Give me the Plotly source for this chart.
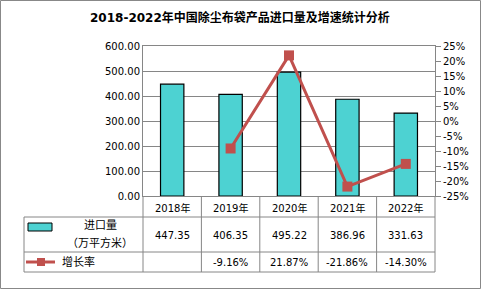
import plotly.graph_objects as go

years = ["2018年", "2019年", "2020年", "2021年", "2022年"]
imports = [447.35, 406.35, 495.22, 386.96, 331.63]
growth = [None, -9.16, 21.87, -21.86, -14.30]
import_labels = ["447.35", "406.35", "495.22", "386.96", "331.63"]
growth_labels = ["", "-9.16%", "21.87%", "-21.86%", "-14.30%"]
pct_ticks = [-25, -20, -15, -10, -5, 0, 5, 10, 15, 20, 25]

W, H = 481, 289
L, R, T, B = 143, 435, 46, 196
FONT = "DejaVu Sans, Noto Sans CJK SC"
BAR = "#4DD2D2"
LINE = "#C0504D"
GRID = "#868686"

def px(x):
    return (x - L) / (R - L)

def py(y):
    return (B - y) / (B - T)

fig = go.Figure()
fig.add_trace(go.Bar(x=years, y=imports, marker=dict(color=BAR, line=dict(color="black", width=1.2)),
                     width=0.4, showlegend=False))
fig.add_trace(go.Scatter(x=years, y=growth, yaxis="y2", mode="lines+markers",
                         line=dict(color=LINE, width=3),
                         marker=dict(symbol="square", size=10, color=LINE),
                         showlegend=False))

shapes = []
def line(x0, y0, x1, y1, color=GRID, w=1):
    shapes.append(dict(type="line", xref="paper", yref="paper", x0=px(x0), y0=py(y0), x1=px(x1), y1=py(y1),
                       line=dict(color=color, width=w)))

colw = (R - L) / 5
for k in range(6):
    xk = L + k * colw
    line(xk, B, xk, 272)
line(24, 217, 24, 272)
for yy in (217, 252, 272):
    line(24, yy, R, yy)
shapes.append(dict(type="rect", xref="paper", yref="paper", x0=px(0.5), y0=py(288.5), x1=px(480.5), y1=py(0.5),
                   line=dict(color="#888888", width=1)))
shapes.append(dict(type="rect", xref="paper", yref="paper", x0=px(28), y0=py(231), x1=px(52), y1=py(223),
                   fillcolor=BAR, line=dict(color="black", width=1)))
line(26, 262, 55, 262, color=LINE, w=3)
shapes.append(dict(type="rect", xref="paper", yref="paper", x0=px(37), y0=py(266), x1=px(45), y1=py(258),
                   fillcolor=LINE, line=dict(color=LINE, width=0)))

ann = []
def text(x, y, s, size=10, anchor="center", bold=False):
    ann.append(dict(xref="paper", yref="paper", x=px(x), y=py(y), text=("<b>%s</b>" % s) if bold else s,
                    showarrow=False, xanchor=anchor, yanchor="middle",
                    font=dict(family=FONT, size=size, color="black")))

for k in range(5):
    cx = L + (k + 0.5) * colw
    text(cx, 208, years[k])
    text(cx, 235, import_labels[k])
    if growth_labels[k]:
        text(cx, 262, growth_labels[k])
text(100, 225, "进口量", size=11)
text(100, 243, "（万平方米）", size=11)
text(60, 262, "增长率", size=11, anchor="left")
text(240, 18, "2018-2022年中国除尘布袋产品进口量及增速统计分析", size=12, bold=True)

fig.update_layout(
    width=W, height=H, autosize=False,
    margin=dict(l=L, r=W - R, t=T, b=H - B, pad=0),
    paper_bgcolor="white", plot_bgcolor="white",
    bargap=0.6,
    shapes=shapes, annotations=ann,
    font=dict(family=FONT, size=10, color="black"),
    xaxis=dict(type="category", showticklabels=False, showgrid=False, zeroline=False,
               showline=True, linecolor=GRID, mirror=True, ticks=""),
    yaxis=dict(range=[0, 600], dtick=100, tickformat=".2f", showgrid=True, gridcolor=GRID,
               zeroline=False, showline=True, linecolor=GRID, ticks="", ticklen=0),
    yaxis2=dict(range=[-25, 25], tickmode="array", tickvals=pct_ticks,
                ticktext=["%d%%" % v for v in pct_ticks], overlaying="y", side="right",
                showgrid=False, zeroline=False, showline=True, linecolor=GRID,
                ticks="outside", ticklen=5, tickcolor=GRID),
)
fig.write_html("out.html")
